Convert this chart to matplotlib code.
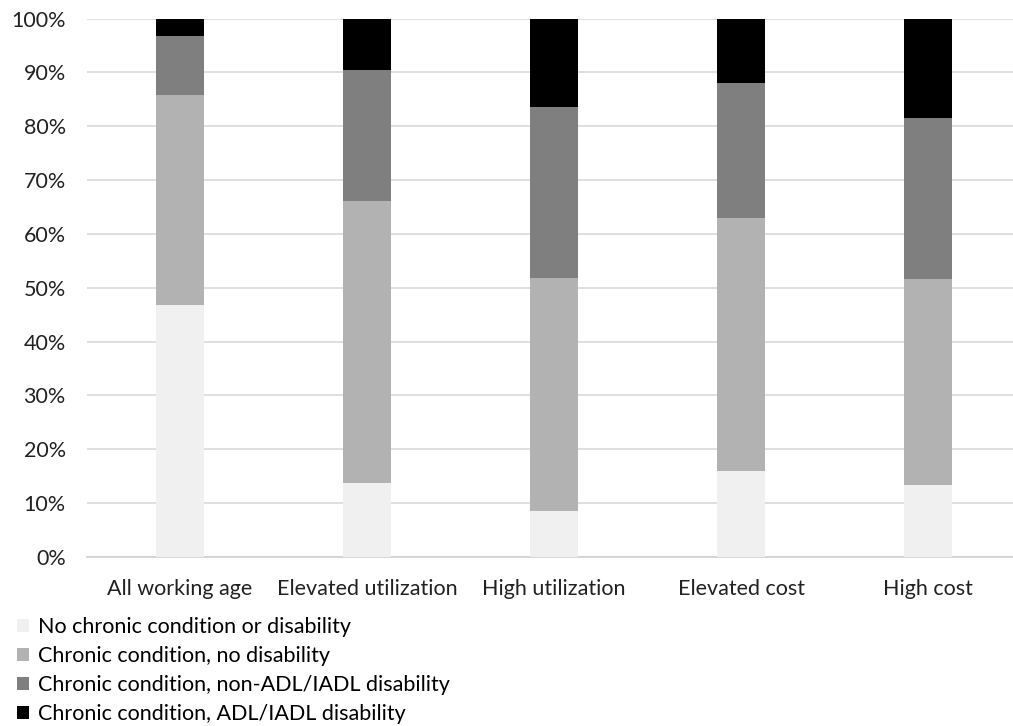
import numpy as np
import matplotlib
matplotlib.use('Agg')
import matplotlib.pyplot as plt
from matplotlib.patches import Patch

plt.rcParams['font.family'] = ['Lato', 'DejaVu Sans']

groups = ['All working age', 'Elevated utilization', 'High utilization',
          'Elevated cost', 'High cost']
series_names = ['No chronic condition or disability',
                'Chronic condition, no disability',
                'Chronic condition, non-ADL/IADL disability',
                'Chronic condition, ADL/IADL disability']

# shares in percent, bottom to top
no_chronic = [46.8, 13.8, 8.6, 16.0, 13.4]
chronic_no_dis = [39.0, 52.4, 43.3, 47.0, 38.2]
non_adl = [10.9, 24.3, 31.7, 25.0, 29.9]
adl = [3.3, 9.5, 16.4, 12.0, 18.5]

colors = ['#f0f0f0', '#b2b2b2', '#7f7f7f', '#000000']

fig = plt.figure(figsize=(10.13, 7.26), dpi=100)
ax = fig.add_axes([0.0854, 0.2328, 0.923, 0.7417])

x = np.arange(len(groups))
bottom = np.zeros(len(groups))
for vals, col, name in zip([no_chronic, chronic_no_dis, non_adl, adl], colors, series_names):
    vals = np.array(vals) / 100.0
    ax.bar(x, vals, width=0.26, bottom=bottom, color=col, label=name, zorder=3)
    bottom += vals

ax.set_xlim(-0.5, 4.5)
ax.set_ylim(0, 1)
ax.set_yticks(np.arange(0, 1.01, 0.1))
ax.set_yticklabels(['%d%%' % v for v in range(0, 101, 10)])
ax.set_xticks(x)
ax.set_xticklabels(groups)
ax.grid(axis='y', color='#d9d9d9', linewidth=1.2, zorder=0)
for s in ['top', 'right', 'left']:
    ax.spines[s].set_visible(False)
ax.spines['bottom'].set_color('#d0d0d0')
ax.spines['bottom'].set_linewidth(1.2)
ax.tick_params(axis='both', length=0, labelsize=15.5, colors='#222222')
ax.tick_params(axis='y', pad=15)
ax.tick_params(axis='x', pad=16)

handles = [Patch(facecolor=c, edgecolor='none') for c in colors]
fig.legend(handles, series_names, loc='upper left', bbox_to_anchor=(0.017, 0.150),
           frameon=False, fontsize=15.5, handlelength=0.55, handleheight=0.55,
           handletextpad=0.4, labelspacing=0.42, borderaxespad=0, borderpad=0)

fig.savefig('out.png', dpi=100)
